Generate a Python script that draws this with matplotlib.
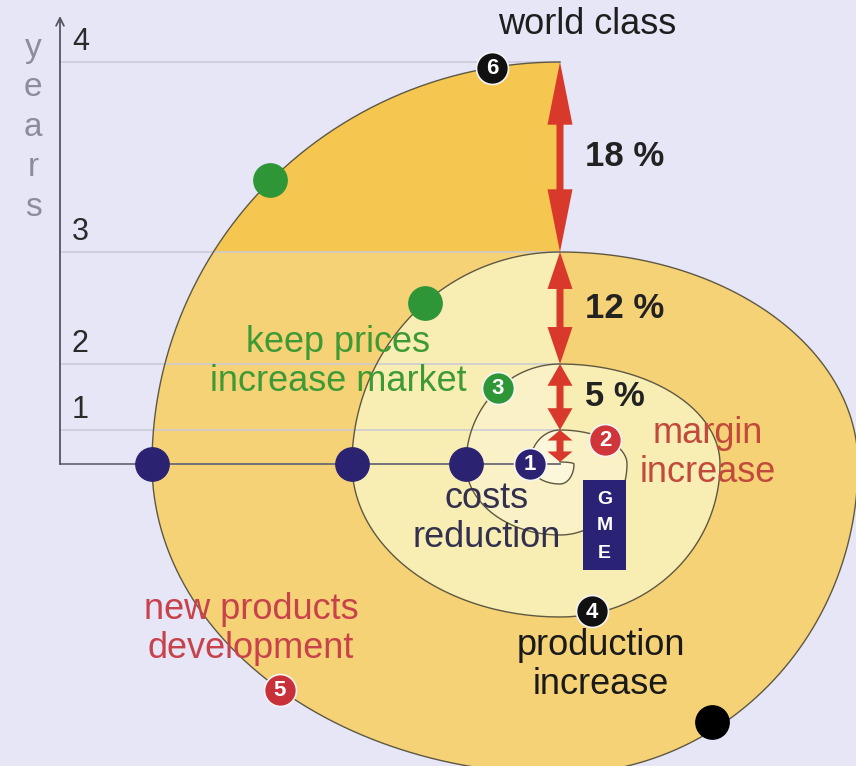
import numpy as np
import matplotlib
matplotlib.use("Agg")
import matplotlib.pyplot as plt
from matplotlib.patches import Polygon, Rectangle, FancyArrowPatch

plt.rcParams['font.family'] = ['Liberation Sans', 'DejaVu Sans']

# ── canvas / layout (pixel units) ─────────────────────────────────────
W, H = 856, 766
CX, CY = 560, 464          # spiral centre
AXIS_X = 60

# ── data ──────────────────────────────────────────────────────────────
# distance of the spiral from its centre where it crosses the axes,
# in order top, right, bottom, left, top, ...
SPIRAL_RADII = [2, 14, 20, 30, 34, 67, 71, 94, 100, 160, 153, 208, 212, 298, 310, 408, 402]
YEAR_LABELS = ["1", "2", "3", "4"]
YEAR_INDEX = [4, 8, 12, 16]              # top crossing that ends each year
GROWTH = ["", "5 %", "12 %", "18 %"]

BASE_DOTS_X = [152, 352, 466]
GREEN_DOTS = [(270, 180), (425, 303)]
NUMBERED = [
    ("1", 530, 464, "#2B2272"),
    ("2", 605, 440, "#D0353A"),
    ("3", 498, 388, "#2E9636"),
    ("4", 592, 611, "#111111"),
    ("5", 280, 690, "#C8303A"),
    ("6", 492, 68, "#111111"),
]
BLACK_DOT = (712, 722)

LABELS = [
    ("world class", 587, 24, "#1E1E1E"),
    ("keep prices\nincrease market", 338, 362, "#3E9A34"),
    ("margin\nincrease", 708, 453, "#C24A3C"),
    ("costs\nreduction", 487, 518, "#33304F"),
    ("new products\ndevelopment", 251, 629, "#C8424C"),
    ("production\nincrease", 601, 665, "#1A1A1A"),
]

BG = "#E6E6F7"
FILLS = ["#FCF7DA", "#FAF2C6", "#F8EDB2", "#F6D276"]
TOP_FILL = "#F5C751"
RED = "#D8392B"


def quarter(k, n=60):
    """Quarter ellipse from crossing k to crossing k+1."""
    th = np.radians(np.linspace(-90 + 90 * k, 90 * k, n))
    r0, r1 = SPIRAL_RADII[k], SPIRAL_RADII[k + 1]
    if k % 2 == 0:
        b, a = r0, r1
    else:
        a, b = r0, r1
    return np.column_stack([CX + a * np.cos(th), CY + b * np.sin(th)])


def revolution(j):
    return np.vstack([quarter(k) for k in range(4 * j, 4 * j + 4)])


fig = plt.figure(figsize=(W / 100, H / 100), dpi=100)
fig.patch.set_facecolor(BG)
ax = fig.add_axes([0, 0, 1, 1])
ax.set_xlim(0, W)
ax.set_ylim(H, 0)
ax.axis("off")

# ── filled shell, outer revolution first ──────────────────────────────
year_y = [CY - SPIRAL_RADII[i] for i in YEAR_INDEX]
for j in range(3, -1, -1):
    p = Polygon(revolution(j), closed=True, fc=FILLS[j], ec="none", zorder=1)
    ax.add_patch(p)
    if j == 3:
        outer = p
        top = Rectangle((AXIS_X, year_y[3]), CX - AXIS_X, year_y[2] - year_y[3],
                        fc=TOP_FILL, ec="none", zorder=1.5)
        ax.add_patch(top)
        top.set_clip_path(outer)

# ── year grid lines and axis ──────────────────────────────────────────
for y, lab in zip(year_y, YEAR_LABELS):
    ax.plot([AXIS_X, CX], [y, y], color="#C9C9D6", lw=1.1, zorder=2)
    ax.text(AXIS_X + 12, y - 5, lab, fontsize=22, color="#2A2A2A", ha="left", va="bottom", zorder=6)
ax.plot([AXIS_X, CX], [CY, CY], color="#6A6A78", lw=1.3, zorder=3)
ax.annotate("", xy=(AXIS_X, 16), xytext=(AXIS_X, CY),
            arrowprops=dict(arrowstyle="->", color="#555560", lw=1.3, mutation_scale=14,
                            shrinkA=0, shrinkB=0), zorder=3)
for i, ch in enumerate("years"):
    ax.text(33, 48 + i * 40, ch, fontsize=24, color="#8C8C9A", ha="center", va="center", zorder=6)

# ── spiral line ───────────────────────────────────────────────────────
spiral = np.vstack([quarter(k) for k in range(len(SPIRAL_RADII) - 1)])
ax.plot(spiral[:, 0], spiral[:, 1], color="#5E5842", lw=1.0, zorder=3)

# ── red double arrows with growth labels ──────────────────────────────
prev = CY - SPIRAL_RADII[0]
for y, g in zip(year_y, GROWTH):
    mid = (prev + y) / 2
    length = prev - y
    hl = 0.33 * length
    for end in (y, prev):
        ax.add_patch(FancyArrowPatch(
            (CX, mid), (CX, end),
            arrowstyle=f"simple,head_length={hl},head_width=25,tail_width=7",
            mutation_scale=0.72, shrinkA=0, shrinkB=0,
            fc=RED, ec="none", zorder=4))
    if g:
        ax.text(CX + 25, mid, g, fontsize=25, fontweight="bold", color="#222222",
                ha="left", va="center", zorder=6)
    prev = y

# ── dots ──────────────────────────────────────────────────────────────
ax.plot(BASE_DOTS_X, [CY] * len(BASE_DOTS_X), "o", ms=24, color="#2B2272", zorder=5)
ax.plot([p[0] for p in GREEN_DOTS], [p[1] for p in GREEN_DOTS], "o", ms=24,
        color="#2E9636", zorder=5)
ax.plot(*BLACK_DOT, "o", ms=24, color="#000000", zorder=5)
for lab, x, y, c in NUMBERED:
    ax.plot(x, y, "o", ms=23, color=c, mec="#F4F4F4", mew=1.2, zorder=5)
    ax.text(x, y + 1, lab, fontsize=16, fontweight="bold", color="white",
            ha="center", va="center", zorder=6)

# ── GME box ───────────────────────────────────────────────────────────
ax.add_patch(Rectangle((583, 480), 43, 90, fc="#2A2275", ec="none", zorder=5))
for i, ch in enumerate("GME"):
    ax.text(604.5, 499 + i * 27, ch, fontsize=14, fontweight="bold", color="white",
            ha="center", va="center", zorder=6)

# ── text labels ───────────────────────────────────────────────────────
for txt, x, y, c in LABELS:
    ax.text(x, y, txt, fontsize=26, color=c, ha="center", va="center",
            linespacing=1.18, zorder=6)

fig.savefig("out.png", dpi=100, facecolor=BG)
